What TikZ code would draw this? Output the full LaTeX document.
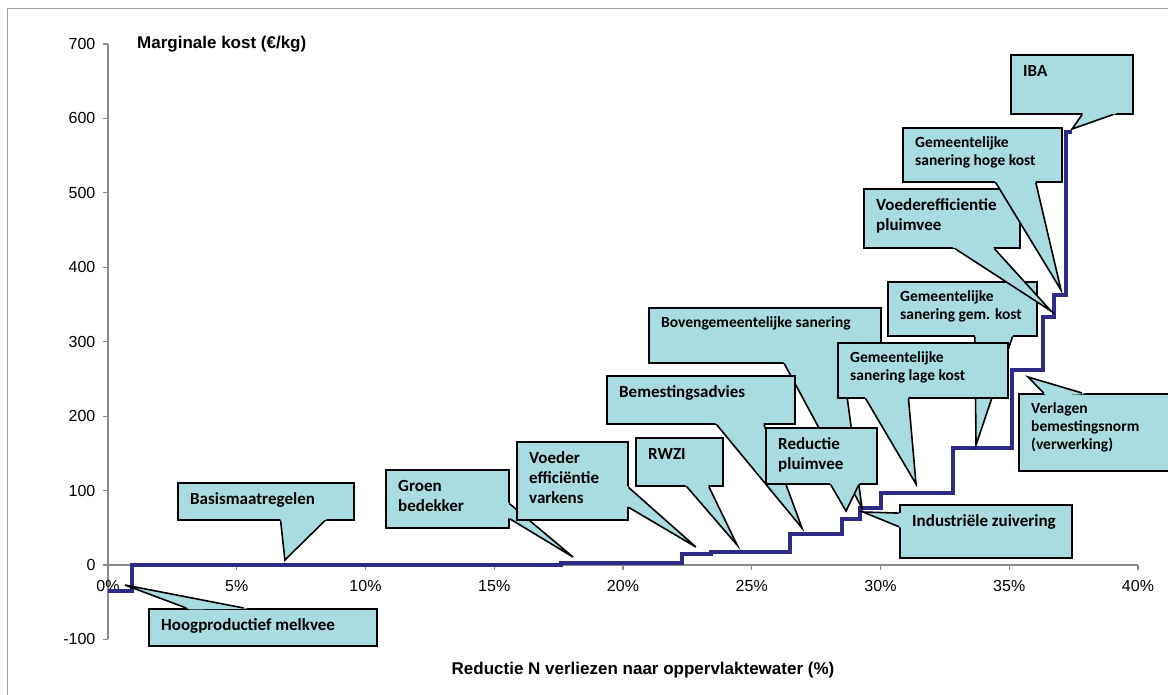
\documentclass[tikz,border=0pt]{standalone}
\usepackage{fontspec}
\setmainfont{Liberation Sans}
\newfontfamily\callfont{Carlito}
\usetikzlibrary{calc}
\definecolor{callfill}{HTML}{A9DCE1}
\definecolor{stepline}{HTML}{2E2B87}
\definecolor{axisgray}{HTML}{8A8A8A}
\definecolor{framegray}{HTML}{A0A0A0}
% wedge of a callout: box, corner from, corner to, start, end, tip
\newcommand{\callwedge}[6]{%
  \coordinate (#1-a) at ($(#1.#2)!#4!(#1.#3)$);
  \coordinate (#1-b) at ($(#1.#2)!#5!(#1.#3)$);
  \fill[callfill] ($(#1-a)!-4pt!(#6)$) -- (#6) -- ($(#1-b)!-4pt!(#6)$) -- cycle;
  \draw[wedgeline] (#1-a) -- (#6) -- (#1-b);
}
\tikzset{
  callbox/.style={rectangle, draw=black, fill=callfill, line width=1.6pt, inner sep=0pt, anchor=north west},
  lblL/.style={font=\callfont\bfseries\fontsize{17}{20}\selectfont, align=left, inner sep=0pt, anchor=north west},
  lblS/.style={font=\callfont\bfseries\fontsize{15.5}{18}\selectfont, align=left, inner sep=0pt, anchor=north west},
  ticklbl/.style={font=\fontsize{16}{19}\selectfont, inner sep=0pt},
  axtitle/.style={font=\bfseries\fontsize{17}{20}\selectfont, inner sep=0pt},
  axisline/.style={draw=axisgray, line width=1.2pt},
  curve/.style={draw=stepline, line width=4pt},
  wedgeline/.style={draw=black, line width=1.6pt, line join=miter},
}

\begin{document}
\begin{tikzpicture}[x=1pt, y=-1pt]
\useasboundingbox (0,0) rectangle (1168,695);
\fill[white] (0,0) rectangle (1168,695);
\draw[framegray, line width=1.8pt] (7.5,8.5) rectangle (1190,720);

% axes, curve and pointer tips in data units
\begin{scope}[shift={(108,565)}, x=25.75pt, y=0.7443pt]
  \draw[axisline] (0,-100) -- (0,700);
  \foreach \v in {-100,0,...,700}
    \draw[axisline] (0,\v) -- ++(-5pt,0) node[ticklbl, anchor=east, xshift=-7pt] {\v};
  \draw[axisline] (0,0) -- (40,0);
  \foreach \p in {0,5,...,40}
    \draw[axisline] (\p,0) -- ++(0,-5pt) node[ticklbl, anchor=north, yshift=-10pt] {\p\%};
  \draw[curve] (0,-35) -| (0.93,0) -| (17.6,3) -| (22.3,15) -| (23.4,18) -| (26.5,42)
    -| (28.5,62) -| (29.2,76) -| (30,97) -| (32.8,157) -| (35.1,262) -| (36.3,333)
    -| (36.75,363) -| (37.2,582) -- (37.45,582);
  \coordinate (t-bas) at (6.87,6.7);
  \coordinate (t-hoog) at (0.66,-26.9);
  \coordinate (t-groen) at (18.06,10.7);
  \coordinate (t-varkens) at (22.83,24.2);
  \coordinate (t-rwzi) at (24.43,26.9);
  \coordinate (t-bemest) at (26.95,49.7);
  \coordinate (t-reductie) at (28.66,72.5);
  \coordinate (t-boven) at (29.28,76.6);
  \coordinate (t-indus) at (29.32,71.2);
  \coordinate (t-lage) at (31.38,108.8);
  \coordinate (t-gemkost) at (33.71,161.2);
  \coordinate (t-verlagen) at (35.73,252.6);
  \coordinate (t-voederpl) at (36.62,341.3);
  \coordinate (t-hoge) at (37.01,369.5);
  \coordinate (t-iba) at (37.44,585.8);
\end{scope}

\node[axtitle, anchor=west] (ytitle) at (137,44) {Marginale kost (€/kg)};
\node[axtitle] (xtitle) at (643,670) {Reductie N verliezen naar oppervlaktewater (\%)};

% callouts
\node[callbox, minimum width=176pt, minimum height=37pt] (bas) at (177,482) {};
\node[lblL] (bas-t) at ([shift={(13,8.5)}]bas.north west) {\strut Basismaatregelen};
\callwedge{bas}{south west}{south east}{7/12}{10/12}{t-bas}

\node[callbox, minimum width=228pt, minimum height=37pt] (hoog) at (148,608) {};
\node[lblL] (hoog-t) at ([shift={(13,8.5)}]hoog.north west) {\strut Hoogproductief melkvee};
\callwedge{hoog}{north west}{north east}{2/12}{5/12}{t-hoog}

\node[callbox, minimum width=123pt, minimum height=58pt] (groen) at (385,469) {};
\node[lblL] (groen-t) at ([shift={(13,8.5)}]groen.north west) {\strut Groen\\bedekker};
\callwedge{groen}{north east}{south east}{7/12}{10/12}{t-groen}

\node[callbox, minimum width=111pt, minimum height=78pt] (varkens) at (516,441) {};
\node[lblL] (varkens-t) at ([shift={(13,8.5)}]varkens.north west) {\strut Voeder\\efficiëntie\\varkens};
\callwedge{varkens}{north east}{south east}{7/12}{10/12}{t-varkens}

\node[callbox, minimum width=87pt, minimum height=48pt] (rwzi) at (635,437) {};
\node[lblL] (rwzi-t) at ([shift={(13,8.5)}]rwzi.north west) {\strut RWZI};
\callwedge{rwzi}{south west}{south east}{7/12}{10/12}{t-rwzi}

\node[callbox, minimum width=232pt, minimum height=55pt] (boven) at (648,307) {};
\node[lblS] (boven-t) at ([shift={(13,8)}]boven.north west) {\strut Bovengemeentelijke sanering};
\callwedge{boven}{south west}{south east}{7/12}{10/12}{t-boven}

\node[callbox, minimum width=188pt, minimum height=48pt] (bemest) at (606,375) {};
\node[lblL] (bemest-t) at ([shift={(13,8.5)}]bemest.north west) {\strut Bemestingsadvies};
\callwedge{bemest}{south west}{south east}{7/12}{10/12}{t-bemest}

\node[callbox, minimum width=111pt, minimum height=56pt] (reductie) at (765,427) {};
\node[lblL] (reductie-t) at ([shift={(13,8.5)}]reductie.north west) {\strut Reductie\\pluimvee};
\callwedge{reductie}{south west}{south east}{7/12}{10/12}{t-reductie}

\node[callbox, minimum width=172pt, minimum height=53pt] (indus) at (899,504) {};
\node[lblL] (indus-t) at ([shift={(13,8.5)}]indus.north west) {\strut Industriële zuivering};
\callwedge{indus}{north west}{south west}{2/12}{5/12}{t-indus}

\node[callbox, minimum width=149pt, minimum height=54pt] (gemkost) at (887,281) {};
\node[lblS] (gemkost-t) at ([shift={(13,8)}]gemkost.north west) {\strut Gemeentelijke\\sanering gem. kost};
\callwedge{gemkost}{south west}{south east}{7/12}{10/12}{t-gemkost}

\node[callbox, minimum width=170pt, minimum height=55pt] (lage) at (837,342) {};
\node[lblS] (lage-t) at ([shift={(13,8)}]lage.north west) {\strut Gemeentelijke\\sanering lage kost};
\callwedge{lage}{south west}{south east}{2/12}{5/12}{t-lage}

\node[callbox, minimum width=152pt, minimum height=77pt] (verlagen) at (1018,393) {};
\node[lblS] (verlagen-t) at ([shift={(13,8)}]verlagen.north west) {\strut Verlagen\\bemestingsnorm\\(verwerking)};
\callwedge{verlagen}{north west}{north east}{2/12}{5/12}{t-verlagen}

\node[callbox, minimum width=156pt, minimum height=59pt] (voederpl) at (863,188) {};
\node[lblL] (voederpl-t) at ([shift={(13,8.5)}]voederpl.north west) {\strut Voederefficientie\\pluimvee};
\callwedge{voederpl}{south west}{south east}{7/12}{10/12}{t-voederpl}

\node[callbox, minimum width=159pt, minimum height=54pt] (hoge) at (902,127) {};
\node[lblS] (hoge-t) at ([shift={(13,8)}]hoge.north west) {\strut Gemeentelijke\\sanering hoge kost};
\callwedge{hoge}{south west}{south east}{7/12}{10/12}{t-hoge}

\node[callbox, minimum width=122pt, minimum height=59pt] (iba) at (1010,54) {};
\node[lblL] (iba-t) at ([shift={(13,8.5)}]iba.north west) {\strut IBA};
\callwedge{iba}{south west}{south east}{7/12}{10/12}{t-iba}
\end{tikzpicture}
\end{document}
